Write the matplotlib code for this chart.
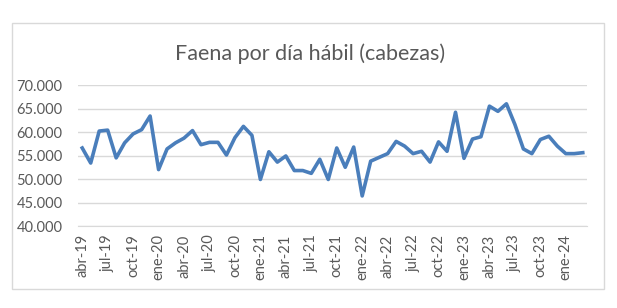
"""
Faena por dia habil (cabezas) - serie mensual abr-19 a mar-24.
"""
import matplotlib
matplotlib.use('Agg')
import matplotlib.pyplot as plt
from matplotlib.patches import Rectangle
from matplotlib.ticker import FuncFormatter

# Data
months = ['ene', 'feb', 'mar', 'abr', 'may', 'jun',
          'jul', 'ago', 'sep', 'oct', 'nov', 'dic']
periods = [f"{months[(3 + i) % 12]}-{19 + (3 + i) // 12}" for i in range(60)]

faena = [
    56600, 53400, 60200, 60400, 54500, 57700, 59600, 60500, 63400, 52000,
    56400, 57700, 58700, 60300, 57300, 57800, 57800, 55100, 58800, 61200,
    59300, 49900, 55800, 53600, 54900, 51800, 51800, 51200, 54200, 49900,
    56600, 52500, 56800, 46400, 53800, 54600, 55400, 58000, 57000, 55400,
    55900, 53600, 57900, 55900, 64200, 54400, 58500, 59000, 65500, 64400,
    66000, 61600, 56400, 55400, 58400, 59100, 57000, 55400, 55400, 55600,
]

plt.rcParams['font.family'] = ['Lato', 'DejaVu Sans']
text_color = '#595959'
grid_color = '#d9d9d9'

fig = plt.figure(figsize=(6.17, 3.08), dpi=100)
ax = fig.add_axes([0.1264, 0.2662, 0.825, 0.4578])

x = list(range(len(faena)))
ax.plot(x, faena, color='#4a7ebb', linewidth=2.6, solid_joinstyle='round')

ax.set_xlim(-0.5, len(faena) - 0.5)
ax.set_ylim(40000, 70000)
ax.set_yticks(range(40000, 70001, 5000))
ax.yaxis.set_major_formatter(FuncFormatter(lambda v, p: f"{v:,.0f}".replace(',', '.')))

ticks = x[::3]
ax.set_xticks(ticks)
ax.set_xticklabels([periods[i] for i in ticks], rotation=90)

ax.grid(axis='y', color=grid_color, linewidth=1)
ax.set_axisbelow(True)
for side in ['top', 'right', 'left']:
    ax.spines[side].set_visible(False)
ax.spines['bottom'].set_color(grid_color)
ax.tick_params(axis='both', length=0, colors=text_color, labelsize=10.5)
ax.tick_params(axis='y', pad=11)
ax.tick_params(axis='x', pad=6)

fig.text(0.502, 0.825, 'Faena por día hábil (cabezas)', ha='center', va='center',
         fontsize=15.5, color=text_color)

# chart border
fig.patches.append(Rectangle((12 / 617, 1 - 289 / 308), 592 / 617, 266 / 308,
                             transform=fig.transFigure, fill=False,
                             edgecolor=grid_color, linewidth=1))

fig.savefig('out.png', dpi=100)
